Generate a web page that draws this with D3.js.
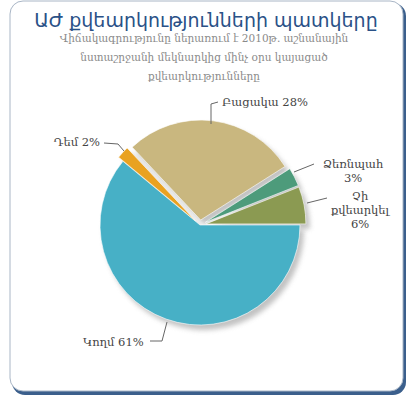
<!DOCTYPE html>
<html><head><meta charset="utf-8">
<script src="https://cdn.jsdelivr.net/npm/d3@7"></script>
<style>body{margin:0;background:#fff;}</style>
</head><body>
<script>
const categories = ["Կողմ", "Դեմ", "Բացակա", "Ձեռնպահ", "Չի քվեարկել"];
const values = [61, 2, 28, 3, 6];
const colors = ["#47b0c6", "#e9a221", "#c9b77f", "#4d9b7b", "#8b9a52"];
const labelLines = [["Կողմ 61%"], ["Դեմ 2%"], ["Բացակա 28%"], ["Ձեռնպահ", "3%"], ["Չի", "քվեարկել", "6%"]];
const title = "ԱԺ քվեարկությունների պատկերը";
const subtitle = ["Վիճակագրությունը ներառում է 2010թ. աշնանային", "նստաշրջանի մեկնարկից մինչ օրս կայացած", "քվեարկությունները"];

const W = 415, H = 400;
const svg = d3.select("body").append("svg").attr("width", W).attr("height", H);
const defs = svg.append("defs");
const f = defs.append("filter").attr("id", "sh").attr("x", "-20%").attr("y", "-20%").attr("width", "140%").attr("height", "140%");
f.append("feGaussianBlur").attr("stdDeviation", 2.5);

// frame
svg.append("rect").attr("x", 12).attr("y", 3).attr("width", 394).attr("height", 392).attr("rx", 13)
  .attr("fill", "#3b5f8c");
svg.append("rect").attr("x", 10).attr("y", 1).attr("width", 393).attr("height", 390).attr("rx", 13)
  .attr("fill", "#fff").attr("stroke", "#a9b6c6").attr("stroke-width", 1);

svg.append("text").attr("x", 206).attr("y", 27).attr("text-anchor", "middle")
  .attr("font-family", "DejaVu Sans").attr("font-size", 19).attr("fill", "#2a5187")
  .text(title);
svg.selectAll(".sub").data(subtitle).join("text")
  .attr("x", 204).attr("y", (d, i) => 42 + i * 19).attr("text-anchor", "middle")
  .attr("font-family", "DejaVu Serif").attr("font-size", 10.5).attr("fill", "#8a8a8a")
  .text(d => d);

const cx = 200, cy = 225, R = 100;
const pie = d3.pie().sort(null).startAngle(Math.PI / 2).endAngle(Math.PI / 2 + 2 * Math.PI);
const arcs = pie(values);
const arc = d3.arc().innerRadius(0).outerRadius(R);
const explode = [0, 6, 5, 6, 6];
const off = (d, i) => {
  const m = (d.startAngle + d.endAngle) / 2;
  return [Math.sin(m) * explode[i], -Math.cos(m) * explode[i]];
};
const g = svg.append("g").attr("transform", `translate(${cx},${cy})`);
g.selectAll(".shadow").data(arcs).join("path")
  .attr("d", arc).attr("fill", "#9a9a9a").attr("opacity", 0.6).attr("filter", "url(#sh)")
  .attr("transform", (d, i) => { const o = off(d, i); return `translate(${o[0] + 4},${o[1] + 5})`; });
g.selectAll(".slice").data(arcs).join("path")
  .attr("d", arc).attr("fill", (d, i) => colors[i])
  .attr("stroke", "#fff").attr("stroke-width", 0.6)
  .attr("transform", (d, i) => { const o = off(d, i); return `translate(${o[0]},${o[1]})`; });

// leaders and labels
const leaderStyle = s => s.attr("fill", "none").attr("stroke", "#666").attr("stroke-width", 1);
const labelPos = [
  {anchor: "start", x: 83, y: 346, pts: [[150, 341], [162, 341], [167, 322]]},
  {anchor: "end", x: 100, y: 146, pts: [[104, 143], [118, 144], [124, 151]]},
  {anchor: "start", x: 222, y: 106, pts: [[211, 124], [211, 104], [218, 102]]},
  {anchor: "middle", x: 353, y: 168, pts: [[294, 172], [314, 164]]},
  {anchor: "middle", x: 360, y: 200, pts: [[307, 203], [327, 198]]}
];
labelPos.forEach((p, i) => {
  svg.append("path").attr("d", d3.line()(p.pts)).call(leaderStyle);
  const t = svg.append("text").attr("text-anchor", p.anchor)
    .attr("font-family", "DejaVu Serif").attr("font-size", 11.5).attr("fill", "#444");
  labelLines[i].forEach((ln, j) => t.append("tspan").attr("x", p.x).attr("y", p.y + j * 14).text(ln));
});
</script>
</body></html>
